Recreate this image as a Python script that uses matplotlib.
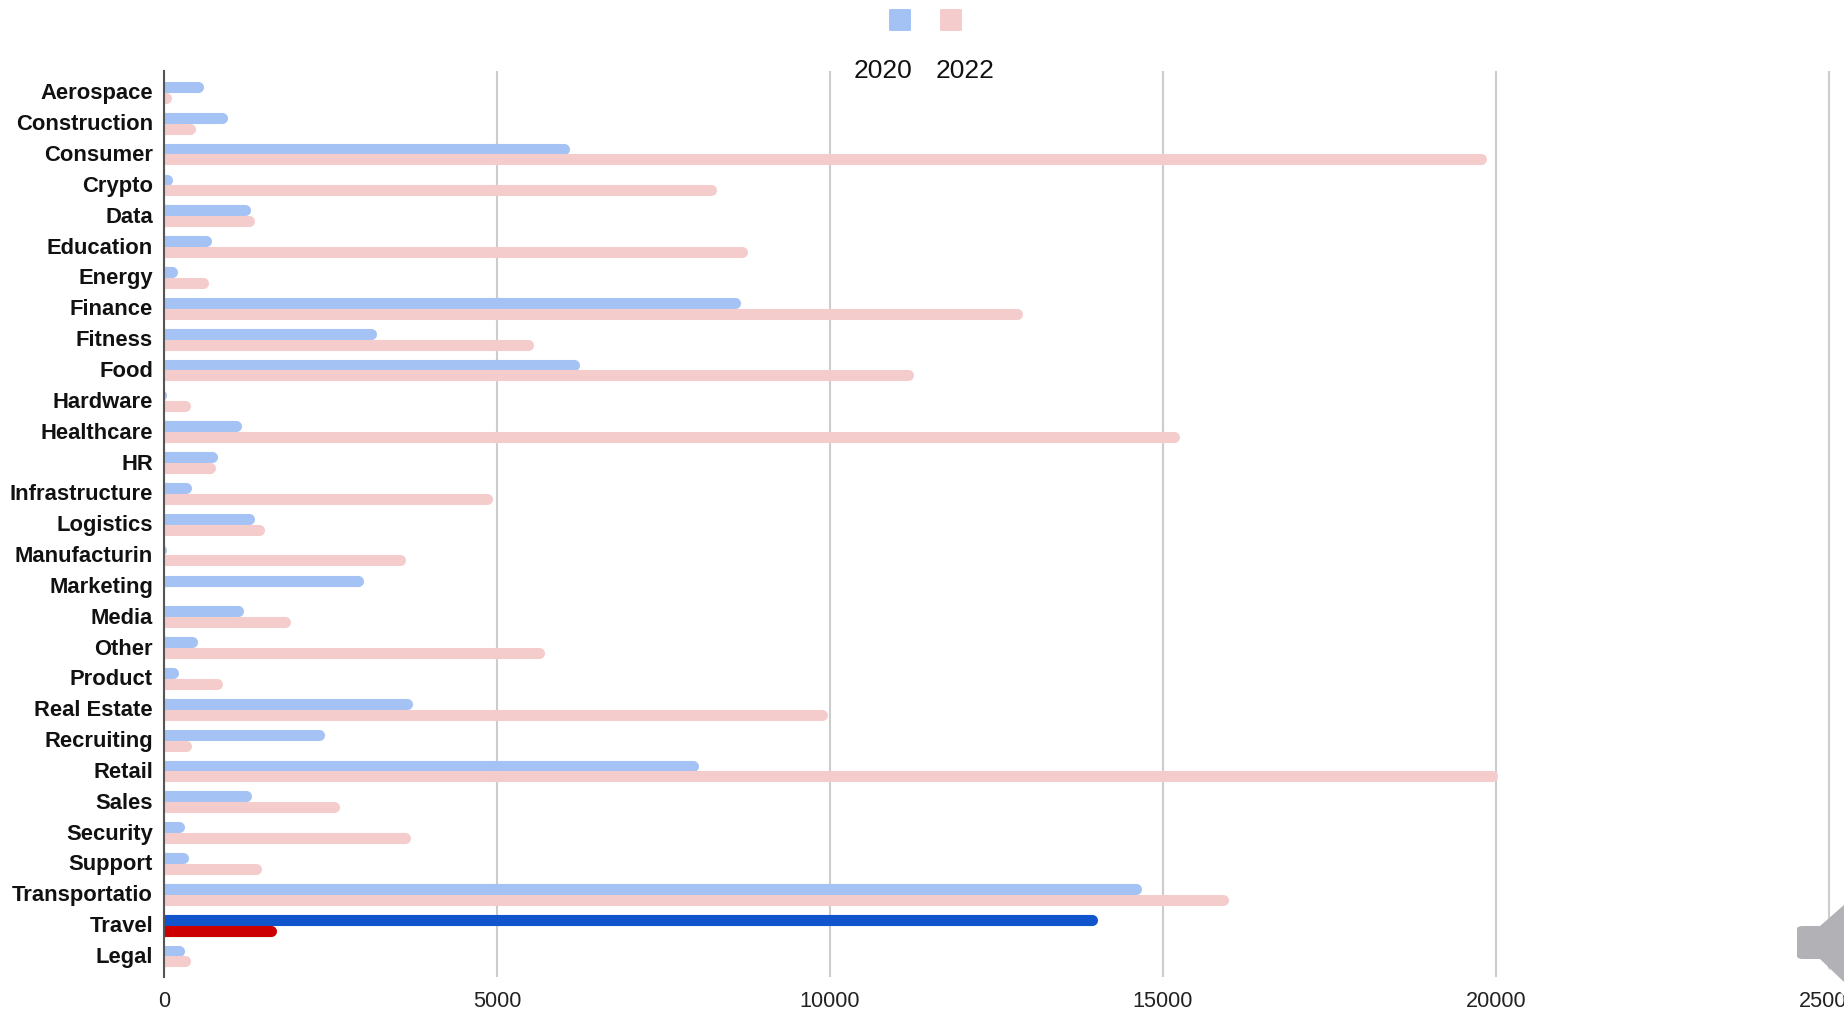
import numpy as np
import matplotlib.pyplot as plt
from matplotlib.patches import Polygon, FancyBboxPatch
from matplotlib.transforms import ScaledTranslation

plt.rcParams['font.family'] = ['Liberation Sans', 'DejaVu Sans']

categories = ['Aerospace', 'Construction', 'Consumer', 'Crypto', 'Data', 'Education', 'Energy',
              'Finance', 'Fitness', 'Food', 'Hardware', 'Healthcare', 'HR', 'Infrastructure',
              'Logistics', 'Manufacturin', 'Marketing', 'Media', 'Other', 'Product', 'Real Estate',
              'Recruiting', 'Retail', 'Sales', 'Security', 'Support', 'Transportatio', 'Travel', 'Legal']
values_2020 = [590, 945, 6080, 130, 1300, 715, 200, 8660, 3185, 6240, 30, 1155, 800, 415, 1350, 30,
               2990, 1190, 500, 220, 3730, 2410, 8020, 1315, 310, 360, 14670, 14020, 310]
values_2022 = [115, 470, 19860, 8290, 1350, 8760, 660, 12890, 5550, 11250, 400, 15240, 770, 4930, 1510, 3630,
               0, 1900, 5710, 870, 9960, 415, 20020, 2640, 3700, 1455, 15980, 1685, 400]
x_ticks = [0, 5000, 10000, 15000, 20000, 25000]

W, H = 1844, 1015
BLUE = '#a4c2f4'
PINK = '#f4cccc'
DARK_BLUE = '#1155cc'
RED = '#cc0000'

fig = plt.figure(figsize=(W / 100, H / 100), dpi=100)
# axes box in pixels: x from 164 to the right edge, y from 71 to 977
ax = fig.add_axes([164 / W, 1 - 977 / H, 1 - 164 / W, (977 - 71) / H])

y = np.arange(len(categories))
offset = 0.175
bar_lw = 8.0  # points
cap = 80  # the round cap adds about this much in data units

colors_2020 = [DARK_BLUE if c == 'Travel' else BLUE for c in categories]
colors_2022 = [RED if c == 'Travel' else PINK for c in categories]

# lines start left of the axis (clipped there) so very small values still show their cap
for i in y:
    if values_2020[i] > 0:
        ax.hlines(i - offset, -300, values_2020[i] - cap, color=colors_2020[i],
                  linewidth=bar_lw, capstyle='round', zorder=3)
    if values_2022[i] > 0:
        ax.hlines(i + offset, -300, values_2022[i] - cap, color=colors_2022[i],
                  linewidth=bar_lw, capstyle='round', zorder=3)

ax.set_xlim(0, (W - 164) / 333 * 5000)
ax.set_ylim(28.68, -0.694)
ax.set_yticks(y)
ax.set_yticklabels(categories, fontsize=15.8, fontweight='bold', color='#111111')
ax.set_xticks(x_ticks)
ax.set_xticklabels([str(t) for t in x_ticks], fontsize=15.6, color='#222222')
ax.tick_params(axis='y', length=0, pad=8)
ax.tick_params(axis='x', length=0, pad=10)
ax.xaxis.grid(True, color='#cccccc', linewidth=1.5, zorder=1)
ax.set_axisbelow(True)
for side in ['top', 'right', 'bottom']:
    ax.spines[side].set_visible(False)
ax.spines['left'].set_color('#555555')
ax.spines['left'].set_linewidth(1.5)
ax.spines['left'].set_zorder(4)

# the category labels sit a pixel higher than matplotlib centres them
for label in ax.get_yticklabels():
    label.set_transform(label.get_transform() + ScaledTranslation(0, 1 / 100, fig.dpi_scale_trans))


def px(x, y):
    return (x / W, 1 - y / H)


# legend: swatches on top, the labels sit lower than the swatches
for x0, col in [(889, BLUE), (940, PINK)]:
    fig.add_artist(FancyBboxPatch(px(x0, 31), 22 / W, 22 / H, boxstyle='round,pad=0,rounding_size=0.001',
                                  transform=fig.transFigure, facecolor=col, edgecolor='none'))
fig.text(883 / W, 1 - 71 / H, '2020', fontsize=19, color='#111111', ha='center', va='center')
fig.text(965 / W, 1 - 71 / H, '2022', fontsize=19, color='#111111', ha='center', va='center')

# speaker icon in the lower right corner
shadow = Polygon([px(1797, 960), px(1820, 960), px(1844, 984), px(1844, 996), px(1818, 968), px(1800, 968)],
                 transform=fig.transFigure, facecolor='white', edgecolor='none', zorder=8)
body = FancyBboxPatch(px(1797, 959), 30 / W, 33 / H, boxstyle='round,pad=0,rounding_size=0.003',
                      transform=fig.transFigure, facecolor='#b2b2b6', edgecolor='none', zorder=9)
cone = Polygon([px(1820, 926), px(1844, 905), px(1844, 982), px(1820, 959)],
               transform=fig.transFigure, facecolor='#b2b2b6', edgecolor='none', zorder=10)
for patch in [shadow, body, cone]:
    fig.add_artist(patch)

plt.savefig('out.png', dpi=100)
